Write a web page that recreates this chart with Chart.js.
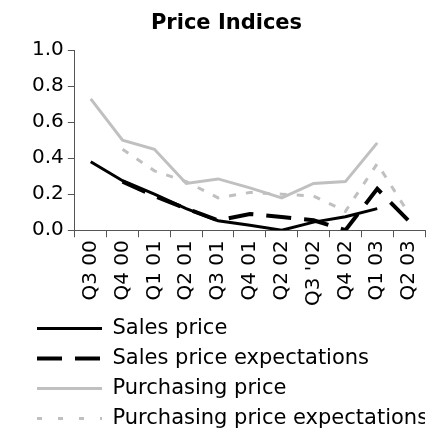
<!DOCTYPE html>
<html>
<head>
<meta charset="utf-8">
<script src="https://cdn.jsdelivr.net/npm/chart.js@4.4.0/dist/chart.umd.min.js"></script>
<style>
  html, body { margin: 0; padding: 0; background: #fff; }
  #wrap { width: 429px; height: 432px; position: relative; }
</style>
</head>
<body>
<div id="wrap"><canvas id="c"></canvas></div>
<script>
const categories = ['Q3 00', 'Q4 00', 'Q1 01', 'Q2 01', 'Q3 01', 'Q4 01', 'Q2 02', "Q3 '02", 'Q4 02', 'Q1 03', 'Q2 03'];
const salesPrice = [0.38, 0.275, 0.20, 0.12, 0.053, 0.028, 0.0, 0.045, 0.075, 0.12, null];
const salesPriceExpectations = [null, 0.27, 0.19, 0.12, 0.055, 0.09, 0.073, 0.055, 0.0, 0.23, 0.05];
const purchasingPrice = [0.73, 0.50, 0.45, 0.26, 0.285, 0.235, 0.18, 0.26, 0.27, 0.485, null];
const purchasingPriceExpectations = [null, 0.45, 0.33, 0.27, 0.18, 0.21, 0.20, 0.19, 0.105, 0.37, 0.09];
const yTicks = [0, 0.2, 0.4, 0.6, 0.8, 1.0];
const seriesNames = ['Sales price', 'Sales price expectations', 'Purchasing price', 'Purchasing price expectations'];

const FONT = "'DejaVu Sans', Verdana, sans-serif";
const axisColor = '#555';
const legendDashes = [[], [25, 13], [], [5, 16]];

new Chart(document.getElementById('c'), {
  type: 'line',
  data: {
    labels: categories,
    datasets: [
      { label: seriesNames[0], data: salesPrice, borderColor: '#000', borderWidth: 3, borderDash: [] },
      { label: seriesNames[1], data: salesPriceExpectations, borderColor: '#000', borderWidth: 4, borderDash: [25, 13] },
      { label: seriesNames[2], data: purchasingPrice, borderColor: '#c0c0c0', borderWidth: 3, borderDash: [] },
      { label: seriesNames[3], data: purchasingPriceExpectations, borderColor: '#c0c0c0', borderWidth: 3, borderDash: [7, 10] }
    ].map(d => Object.assign(d, { pointRadius: 0, pointHoverRadius: 0, tension: 0, fill: false, backgroundColor: d.borderColor }))
  },
  options: {
    responsive: true,
    maintainAspectRatio: false,
    animation: false,
    events: [],
    layout: { padding: { left: 28, right: 4, top: 3, bottom: -7 } },
    plugins: {
      title: {
        display: true,
        text: 'Price Indices',
        color: '#000',
        font: { family: FONT, size: 21, weight: 'bold' },
        padding: { top: 8, bottom: 14 }
      },
      legend: {
        display: true,
        position: 'bottom',
        align: 'start',
        labels: {
          color: '#000',
          font: { family: FONT, size: 21 },
          usePointStyle: true,
          pointStyle: 'line',
          pointStyleWidth: 65,
          boxWidth: 65,
          padding: 9,
          generateLabels: chart => {
            const items = Chart.defaults.plugins.legend.labels.generateLabels(chart);
            items.forEach(it => {
              const ds = chart.data.datasets[it.datasetIndex];
              it.lineDash = legendDashes[it.datasetIndex];
              it.lineWidth = ds.borderWidth;
              it.strokeStyle = ds.borderColor;
              it.lineCap = 'butt';
            });
            return items;
          }
        }
      },
      tooltip: { enabled: false }
    },
    scales: {
      x: {
        type: 'category',
        offset: true,
        afterFit: s => { s.paddingLeft = 0; s.paddingRight = 0; },
        grid: { display: true, offset: true, drawOnChartArea: false, drawTicks: true, tickLength: 7, color: axisColor },
        border: { display: true, color: axisColor, width: 1 },
        ticks: {
          color: '#000',
          font: { family: FONT, size: 20 },
          minRotation: 90,
          maxRotation: 90,
          autoSkip: false,
          padding: 3
        }
      },
      y: {
        min: 0,
        max: 1,
        afterBuildTicks: axis => { axis.ticks = yTicks.map(v => ({ value: v })); },
        grid: { display: true, drawOnChartArea: false, drawTicks: true, tickLength: 7, color: axisColor },
        border: { display: true, color: axisColor, width: 1 },
        ticks: {
          color: '#000',
          font: { family: FONT, size: 20 },
          padding: 4,
          callback: v => Number(v).toFixed(1)
        }
      }
    }
  }
});
</script>
</body>
</html>
